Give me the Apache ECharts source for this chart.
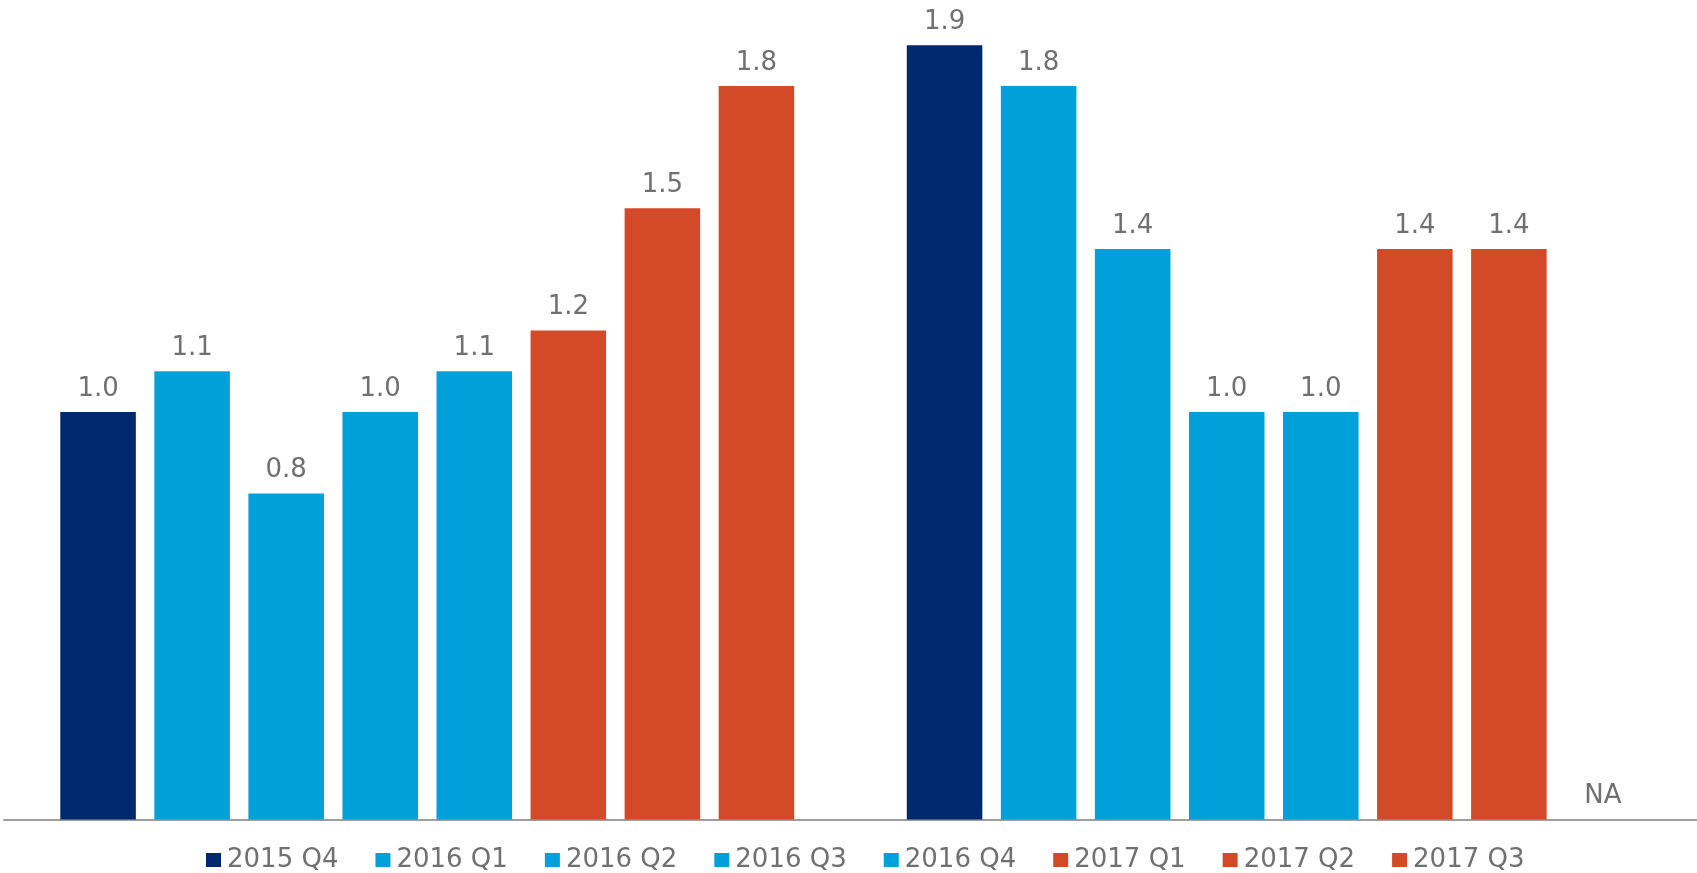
<!DOCTYPE html>
<html>
<head>
<meta charset="utf-8">
<style>
html,body{margin:0;padding:0;background:#fff;}
#chart{width:1697px;height:873px;}
</style>
<script src="https://cdn.jsdelivr.net/npm/echarts@6/dist/echarts.min.js"></script>
</head>
<body>
<div id="chart"></div>
<script>
var categories = ['Group 1', 'Group 2'];
var seriesNames = ['2015 Q4', '2016 Q1', '2016 Q2', '2016 Q3', '2016 Q4', '2017 Q1', '2017 Q2', '2017 Q3'];
var s2015Q4 = [1.0, 1.9];
var s2016Q1 = [1.1, 1.8];
var s2016Q2 = [0.8, 1.4];
var s2016Q3 = [1.0, 1.0];
var s2016Q4 = [1.1, 1.0];
var s2017Q1 = [1.2, 1.4];
var s2017Q2 = [1.5, 1.4];
var s2017Q3 = [1.8, null];
var seriesValues = [s2015Q4, s2016Q1, s2016Q2, s2016Q3, s2016Q4, s2017Q1, s2017Q2, s2017Q3];
var seriesColors = ['#00286F', '#00A0DA', '#00A0DA', '#00A0DA', '#00A0DA', '#D34A29', '#D34A29', '#D34A29'];

var FONT = 'DejaVu Sans';
var GRAY = '#707070';

var chart = echarts.init(document.getElementById('chart'), null, {renderer: 'canvas'});

var series = seriesNames.map(function (name, i) {
  return {
    name: name,
    type: 'bar',
    barCategoryGap: '13.3%',
    barGap: '24.5%',
    itemStyle: {color: seriesColors[i]},
    label: {
      show: true,
      position: 'top',
      distance: 10,
      color: GRAY,
      fontFamily: FONT,
      fontSize: 26,
      formatter: function (p) {
        return (p.data && p.data.na) ? 'NA' : Number(p.value).toFixed(1);
      }
    },
    data: seriesValues[i].map(function (v) {
      return v === null ? {value: 0, na: true} : v;
    })
  };
});

chart.setOption({
  animation: false,
  backgroundColor: '#ffffff',
  grid: {left: 4, right: 0, top: 4.5, bottom: 53.5, containLabel: false},
  legend: {
    data: seriesNames,
    left: 201,
    top: 842,
    itemWidth: 15,
    itemHeight: 14,
    itemGap: 37,
    icon: 'rect',
    textStyle: {color: GRAY, fontFamily: FONT, fontSize: 26, padding: [0, 0, 0, 1]},
    selectedMode: false
  },
  xAxis: {
    type: 'category',
    data: categories,
    axisLine: {show: true, lineStyle: {color: '#9E9E9E', width: 2}},
    axisTick: {show: false},
    axisLabel: {show: false},
    splitLine: {show: false}
  },
  yAxis: {
    type: 'value',
    min: 0,
    max: 2,
    interval: 0.5,
    show: false,
    splitLine: {show: false}
  },
  series: series
});
</script>
</body>
</html>
